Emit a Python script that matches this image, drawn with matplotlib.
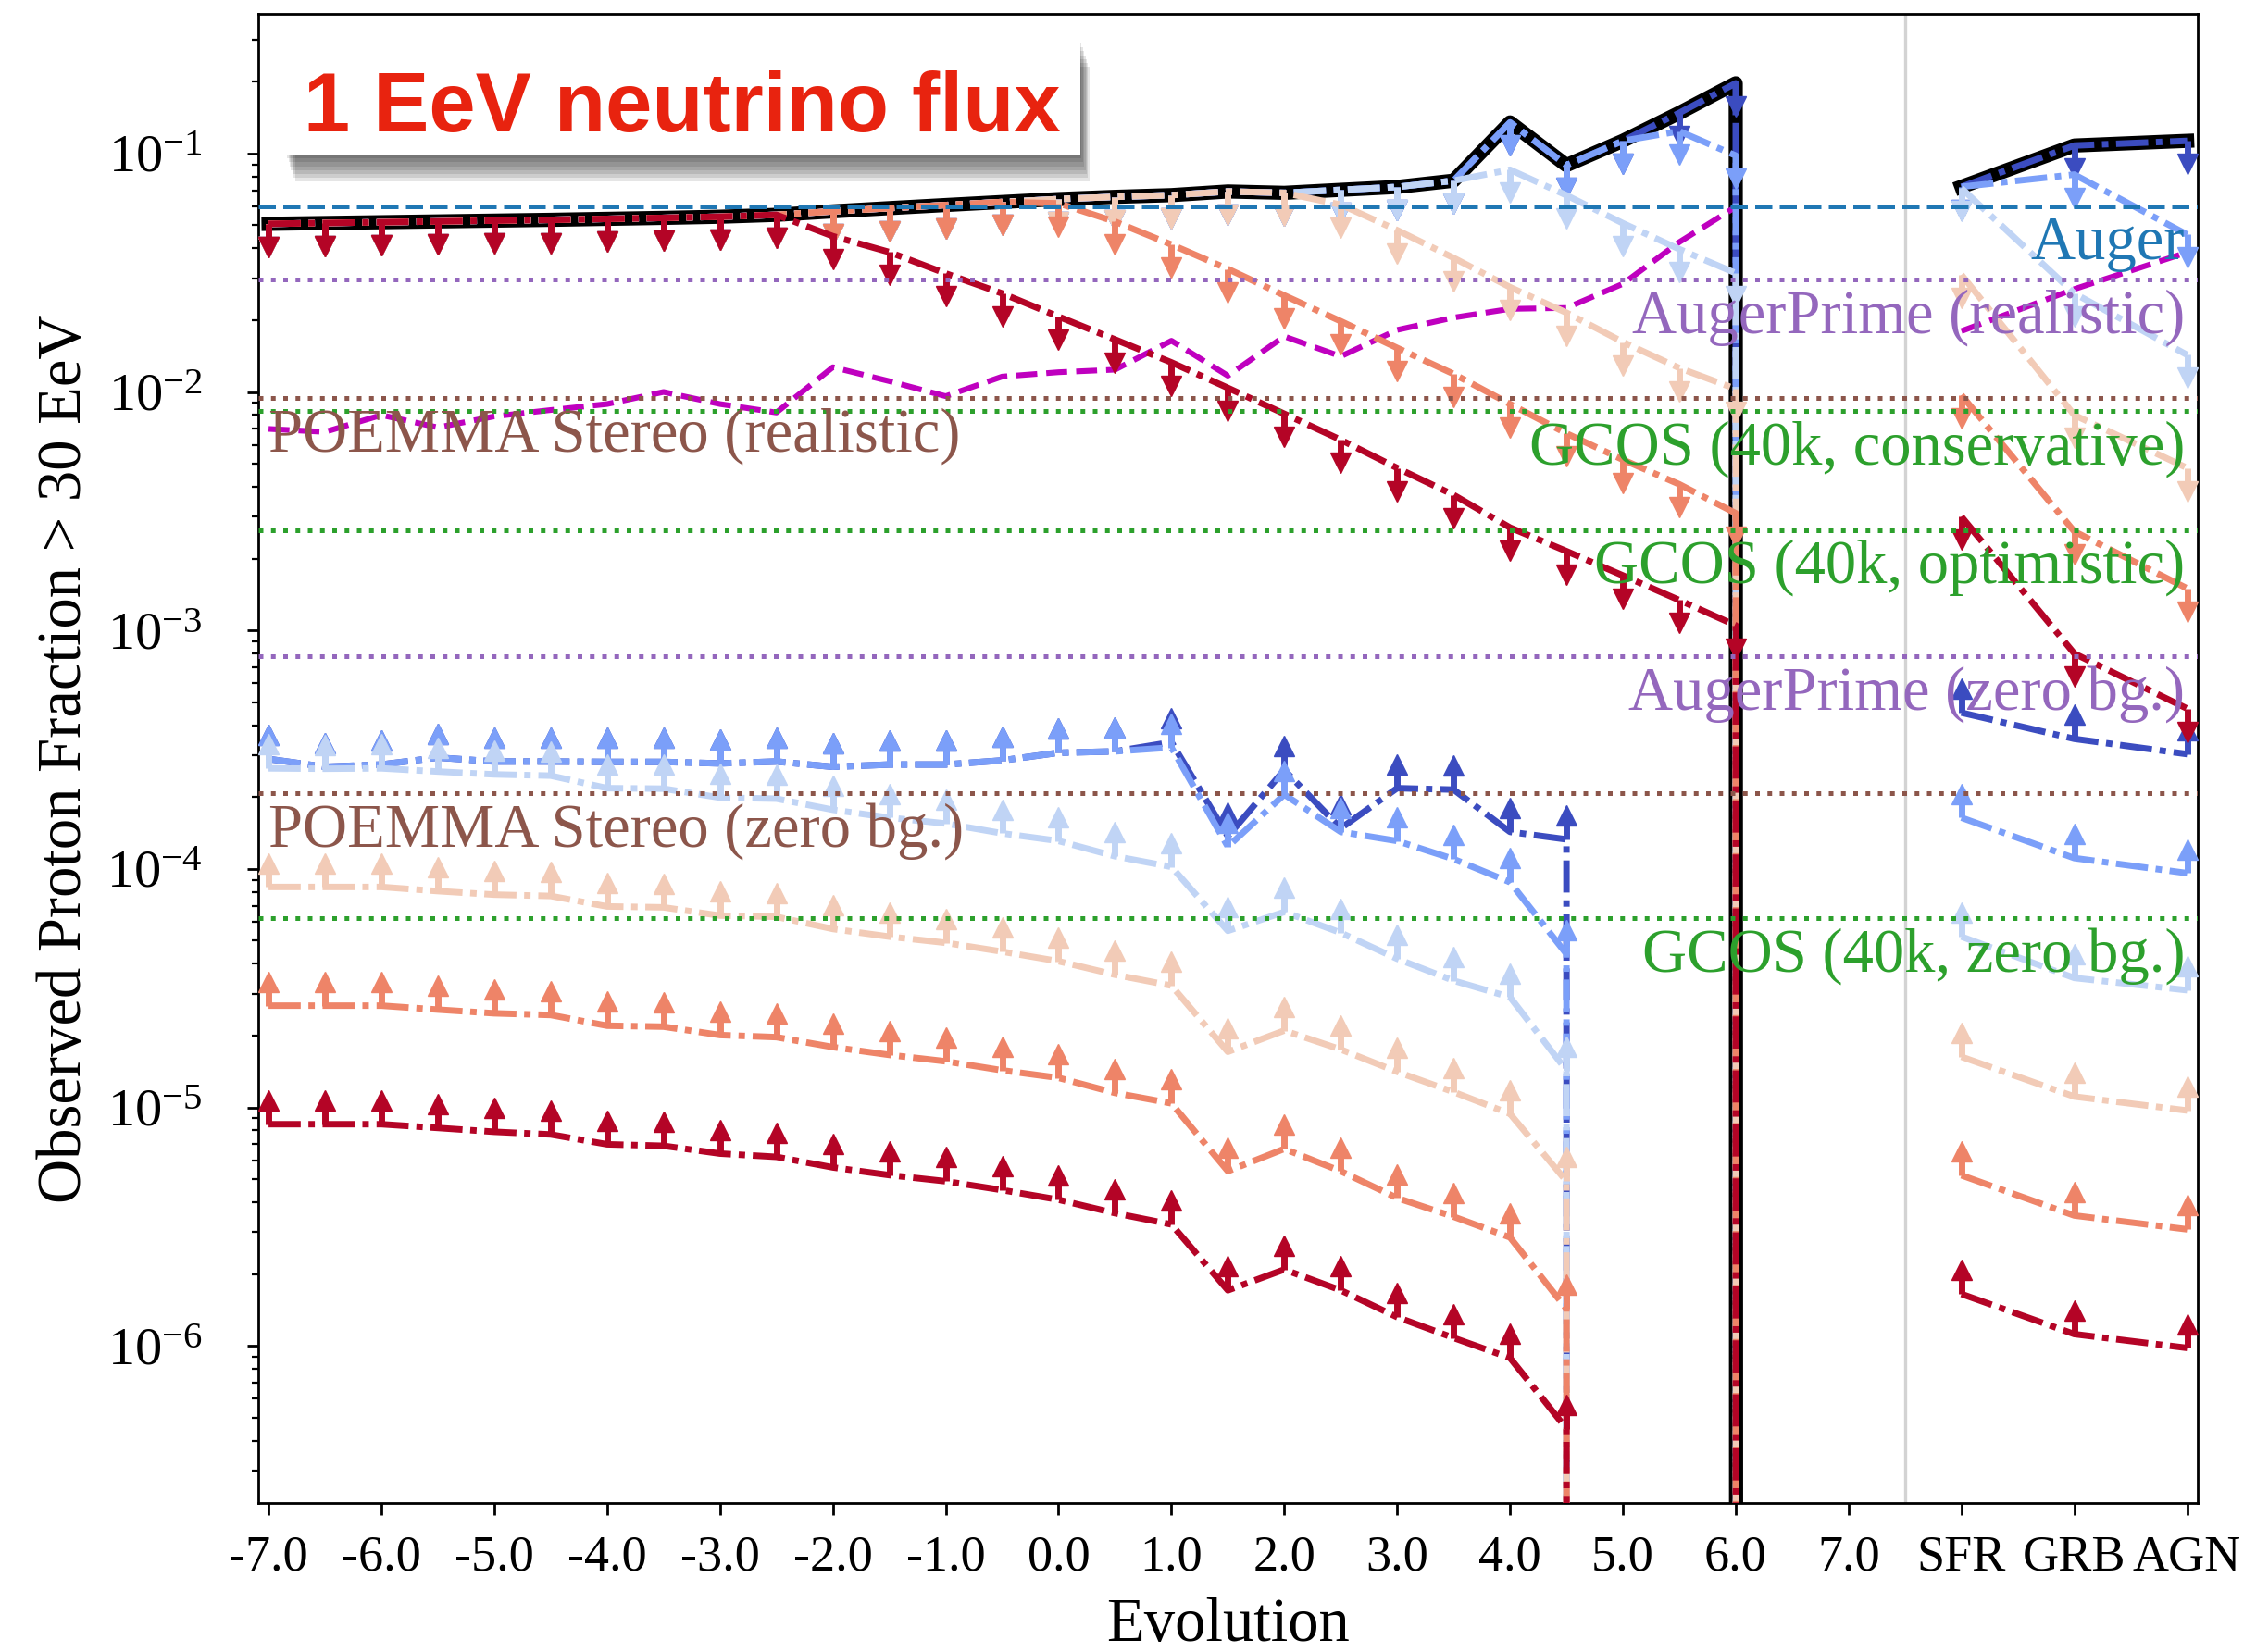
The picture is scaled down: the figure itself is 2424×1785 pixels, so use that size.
import numpy as np
import matplotlib
matplotlib.use("Agg")
import matplotlib.pyplot as plt
from matplotlib import patheffects
from matplotlib.patches import Rectangle
from matplotlib.ticker import NullLocator

plt.rcParams['font.family'] = 'serif'
plt.rcParams['font.serif'] = ['Liberation Serif', 'DejaVu Serif']
plt.rcParams['mathtext.fontset'] = 'stix'

# source evolution grid, then the source classes
evolution = [-7.0, -6.5, -6.0, -5.5, -5.0, -4.5, -4.0, -3.5, -3.0, -2.5,
             -2.0, -1.5, -1.0, -0.5, 0.0, 0.5, 1.0, 1.5, 2.0, 2.5,
             3.0, 3.5, 4.0, 4.5, 5.0, 5.5, 6.0, 6.5, 7.0]
sources = ['SFR', 'GRB', 'AGN']

# black curve (largest upper limit)
envelope = [0.0507, 0.0511, 0.0515, 0.0519, 0.0523, 0.0527, 0.0532, 0.0537, 0.0543, 0.0553,
            0.0572, 0.0590, 0.0608, 0.0626, 0.0644, 0.0658, 0.0669, 0.0693, 0.0684, 0.0704,
            0.0724, 0.0769, 0.135, 0.0893, 0.113, 0.148, 0.197, 0, 0]
envelope_src = [0.0725, 0.108, 0.113]

# upper limits, one list per colour (coolwarm position)
upper_00 = [0.0507, 0.0511, 0.0515, 0.0519, 0.0523, 0.0527, 0.0532, 0.0537, 0.0543, 0.0553,
            0.0572, 0.0590, 0.0608, 0.0626, 0.0644, 0.0658, 0.0669, 0.0693, 0.0684, 0.0704,
            0.0724, 0.0769, 0.135, 0.0893, 0.113, 0.148, 0.197, 0, 0]
upper_02 = [0.0507, 0.0511, 0.0515, 0.0519, 0.0523, 0.0527, 0.0532, 0.0537, 0.0543, 0.0553,
            0.0572, 0.0590, 0.0608, 0.0626, 0.0644, 0.0658, 0.0669, 0.0693, 0.0684, 0.0704,
            0.0724, 0.0769, 0.135, 0.0893, 0.113, 0.124, 0.098, 0, 0]
upper_04 = [0.0507, 0.0511, 0.0515, 0.0519, 0.0523, 0.0527, 0.0532, 0.0537, 0.0543, 0.0553,
            0.0572, 0.0590, 0.0608, 0.0626, 0.0644, 0.0658, 0.0669, 0.0693, 0.0684, 0.0704,
            0.0724, 0.0769, 0.0855, 0.0668, 0.0510, 0.0397, 0.0315, 0, 0]
upper_06 = [0.0507, 0.0511, 0.0515, 0.0519, 0.0523, 0.0527, 0.0532, 0.0537, 0.0543, 0.0553,
            0.0572, 0.0590, 0.0608, 0.0626, 0.0644, 0.0658, 0.0669, 0.0693, 0.0684, 0.0610,
            0.0477, 0.0365, 0.0275, 0.0215, 0.0162, 0.0126, 0.0103, 0, 0]
upper_08 = [0.0507, 0.0511, 0.0515, 0.0519, 0.0523, 0.0527, 0.0532, 0.0537, 0.0543, 0.0553,
            0.0572, 0.0590, 0.0608, 0.0626, 0.0618, 0.0518, 0.0415, 0.0328, 0.0254, 0.0198,
            0.0153, 0.0119, 0.0089, 0.0067, 0.0052, 0.0041, 0.0031, 0, 0]
upper_10 = [0.0507, 0.0511, 0.0515, 0.0519, 0.0523, 0.0527, 0.0532, 0.0537, 0.0543, 0.0553,
            0.0450, 0.0386, 0.0314, 0.0259, 0.0207, 0.0166, 0.0133, 0.0104, 0.0081, 0.0063,
            0.0048, 0.0037, 0.0027, 0.00215, 0.0017, 0.00134, 0.00105, 0, 0]
upper_src_00 = [0.0725, 0.108, 0.113]
upper_src_02 = [0.0725, 0.0816, 0.0457]
upper_src_04 = [0.0715, 0.0259, 0.0143]
upper_src_06 = [0.031, 0.0080, 0.0048]
upper_src_08 = [0.0097, 0.0026, 0.0015]
upper_src_10 = [0.0030, 0.00080, 0.00047]

# lower limits
lower_00 = [2.89e-4, 2.68e-4, 2.74e-4, 2.93e-4, 2.82e-4, 2.82e-4, 2.81e-4, 2.81e-4, 2.77e-4, 2.82e-4,
            2.68e-4, 2.74e-4, 2.74e-4, 2.85e-4, 3.07e-4, 3.11e-4, 3.4e-4, 1.37e-4, 2.6e-4, 1.48e-4,
            2.18e-4, 2.15e-4, 1.43e-4, 1.33e-4, 0, 0, 0, 0, 0]
lower_02 = [2.89e-4, 2.68e-4, 2.74e-4, 2.93e-4, 2.82e-4, 2.82e-4, 2.81e-4, 2.81e-4, 2.77e-4, 2.82e-4,
            2.68e-4, 2.74e-4, 2.74e-4, 2.85e-4, 3.07e-4, 3.11e-4, 3.23e-4, 1.24e-4, 2.05e-4, 1.43e-4,
            1.31e-4, 1.10e-4, 8.8e-5, 4.4e-5, 0, 0, 0, 0, 0]
lower_04 = [2.64e-4, 2.63e-4, 2.64e-4, 2.56e-4, 2.49e-4, 2.46e-4, 2.18e-4, 2.17e-4, 1.99e-4, 1.97e-4,
            1.77e-4, 1.64e-4, 1.55e-4, 1.41e-4, 1.31e-4, 1.13e-4, 1.02e-4, 5.5e-5, 6.6e-5, 5.4e-5,
            4.2e-5, 3.4e-5, 2.9e-5, 1.43e-5, 0, 0, 0, 0, 0]
lower_06 = [8.4e-5, 8.4e-5, 8.4e-5, 8.07e-5, 7.8e-5, 7.7e-5, 6.96e-5, 6.9e-5, 6.37e-5, 6.3e-5,
            5.6e-5, 5.2e-5, 4.9e-5, 4.5e-5, 4.1e-5, 3.6e-5, 3.24e-5, 1.71e-5, 2.1e-5, 1.75e-5,
            1.41e-5, 1.16e-5, 9.4e-6, 4.9e-6, 0, 0, 0, 0, 0]
lower_08 = [2.67e-5, 2.67e-5, 2.67e-5, 2.57e-5, 2.48e-5, 2.44e-5, 2.2e-5, 2.18e-5, 2.01e-5, 1.97e-5,
            1.79e-5, 1.66e-5, 1.56e-5, 1.43e-5, 1.33e-5, 1.15e-5, 1.04e-5, 5.4e-6, 6.7e-6, 5.4e-6,
            4.17e-6, 3.48e-6, 2.85e-6, 1.43e-6, 0, 0, 0, 0, 0]
lower_10 = [8.5e-6, 8.5e-6, 8.5e-6, 8.2e-6, 7.9e-6, 7.7e-6, 7.0e-6, 6.9e-6, 6.4e-6, 6.2e-6,
            5.6e-6, 5.2e-6, 4.9e-6, 4.5e-6, 4.1e-6, 3.6e-6, 3.23e-6, 1.71e-6, 2.09e-6, 1.71e-6,
            1.32e-6, 1.08e-6, 8.9e-7, 4.5e-7, 0, 0, 0, 0, 0]
lower_src_00 = [4.52e-4, 3.51e-4, 3.03e-4]
lower_src_02 = [1.64e-4, 1.11e-4, 9.6e-5]
lower_src_04 = [5.2e-5, 3.49e-5, 3.1e-5]
lower_src_06 = [1.63e-5, 1.11e-5, 9.7e-6]
lower_src_08 = [5.19e-6, 3.52e-6, 3.08e-6]
lower_src_10 = [1.65e-6, 1.12e-6, 9.8e-7]

# magenta dashed curve
magenta = [0.0070, 0.0068, 0.0080, 0.0071, 0.0079, 0.0084, 0.0089, 0.0100, 0.0089, 0.0082,
           0.0127, 0.0111, 0.0096, 0.0116, 0.0121, 0.0124, 0.0164, 0.0117, 0.0171, 0.0141,
           0.0182, 0.0205, 0.0223, 0.0225, 0.0284, 0.0425, 0.0597, 0, 0]
magenta_src = [0.018, 0.027, 0.0385]

# experiment sensitivities
ref_names = ['Auger', 'AugerPrime (realistic)', 'POEMMA Stereo (realistic)',
             'GCOS (40k, conservative)', 'GCOS (40k, optimistic)', 'AugerPrime (zero bg.)',
             'POEMMA Stereo (zero bg.)', 'GCOS (40k, zero bg.)']
ref_values = [0.06, 0.0296, 0.0094, 0.0083, 0.00264, 7.8e-4, 2.08e-4, 6.24e-5]
ref_colors = ['tab:blue', 'tab:purple', 'tab:brown', 'tab:green',
              'tab:green', 'tab:purple', 'tab:brown', 'tab:green']
ref_styles = ['--', ':', ':', ':', ':', ':', ':', ':']

cmap_pos = [0.0, 0.2, 0.4, 0.6, 0.8, 1.0]
uppers = [upper_00, upper_02, upper_04, upper_06, upper_08, upper_10]
uppers_src = [upper_src_00, upper_src_02, upper_src_04, upper_src_06, upper_src_08, upper_src_10]
lowers = [lower_00, lower_02, lower_04, lower_06, lower_08, lower_10]
lowers_src = [lower_src_00, lower_src_02, lower_src_04, lower_src_06, lower_src_08, lower_src_10]

x_evo = np.array(evolution)
x_src = x_evo[-1] + 1 + np.arange(len(sources))

DASHDOT = (0, (5.0, 1.2, 1.0, 1.2))

fig = plt.figure(figsize=(12.12, 8.925), dpi=200)
ax = fig.add_axes([0.1149, 0.0904, 0.8643, 0.9012])
ax.set_yscale('log')


# dash-dot curve with an arrow at every point: upper limits point down, lower limits up
def limit_curve(x, y, color, pointing_up):
    x = np.asarray(x, float)
    y = np.asarray(y, float)
    ax.plot(x, y, color=color, lw=2.5, ls=DASHDOT, zorder=3)
    m = y > 0
    if pointing_up:
        stem, head, mk = y[m] * 1.16, y[m] * 1.26, '^'
    else:
        stem, head, mk = y[m] * 0.87, y[m] * 0.80, 'v'
    ax.vlines(x[m], y[m], stem, colors=[color], lw=2.5, zorder=3)
    ax.plot(x[m], head, ls='none', marker=mk, ms=8, color=color, mec=color, mew=0.5, zorder=3)


ax.axvline(7.5, color='lightgray', lw=1.2, zorder=1)

# black envelope underneath
ax.plot(x_evo, envelope, color='k', lw=5.5, zorder=2)
ax.plot(x_src, envelope_src, color='k', lw=5.5, zorder=2)

ax.plot(x_evo, magenta, color='m', ls='--', lw=2.2, zorder=2.5)
ax.plot(x_src, magenta_src, color='m', ls='--', lw=2.2, zorder=2.5)

colors = plt.cm.coolwarm(cmap_pos)
for c, up, up_s, lo, lo_s in zip(colors, uppers, uppers_src, lowers, lowers_src):
    limit_curve(x_evo, up, c, False)
    limit_curve(x_src, up_s, c, False)
    limit_curve(x_evo, lo, c, True)
    limit_curve(x_src, lo_s, c, True)

for name, v, c, ls in zip(ref_names, ref_values, ref_colors, ref_styles):
    ax.axhline(v, color=c, ls=ls, lw=1.8, zorder=4)
    if name.startswith('POEMMA'):
        ax.text(-7.0, v * 0.915, name, color=c, fontsize=24, ha='left', va='top', zorder=5)
    else:
        ax.text(9.98, v * 0.915, name, color=c, fontsize=24, ha='right', va='top', zorder=5)

ax.set_xlim(-7.095, 10.09)
ax.set_ylim(2.2e-7, 0.385)

tick_pos = [v for v in evolution if v == int(v)] + list(x_src)
tick_lab = [f'{v:.1f}' for v in evolution if v == int(v)] + sources
ax.set_xticks(tick_pos)
ax.set_xticklabels(tick_lab)
ax.xaxis.set_minor_locator(NullLocator())
ax.tick_params(which='major', labelsize=19.5, length=4.5, width=1)
ax.tick_params(axis='x', which='major', pad=8)
ax.tick_params(axis='y', which='major', pad=17, labelsize=21)
ax.tick_params(which='minor', length=2.5, width=0.8)
for s in ax.spines.values():
    s.set_linewidth(1.0)

ax.set_xlabel('Evolution', fontsize=24, labelpad=6)
ax.set_ylabel('Observed Proton Fraction > 30 EeV', fontsize=24, labelpad=5)

# title box with soft shadow
shadows = [patheffects.SimplePatchShadow(offset=(0.5 * k, -1.5 * k), shadow_rgbFace='k', alpha=0.1)
           for k in range(1, 8)]
box = Rectangle((0.0145, 0.9055), 0.4096, 0.0771, transform=ax.transAxes,
                facecolor='white', edgecolor='none', zorder=6,
                path_effects=shadows + [patheffects.Normal()])
ax.add_patch(box)
ax.text(0.2186, 0.921, '1 EeV neutrino flux', transform=ax.transAxes, ha='center', va='baseline',
        fontsize=32.5, fontweight='bold', color='#e8230f', family='Liberation Sans', zorder=7)

fig.savefig('out.png', dpi=200)
